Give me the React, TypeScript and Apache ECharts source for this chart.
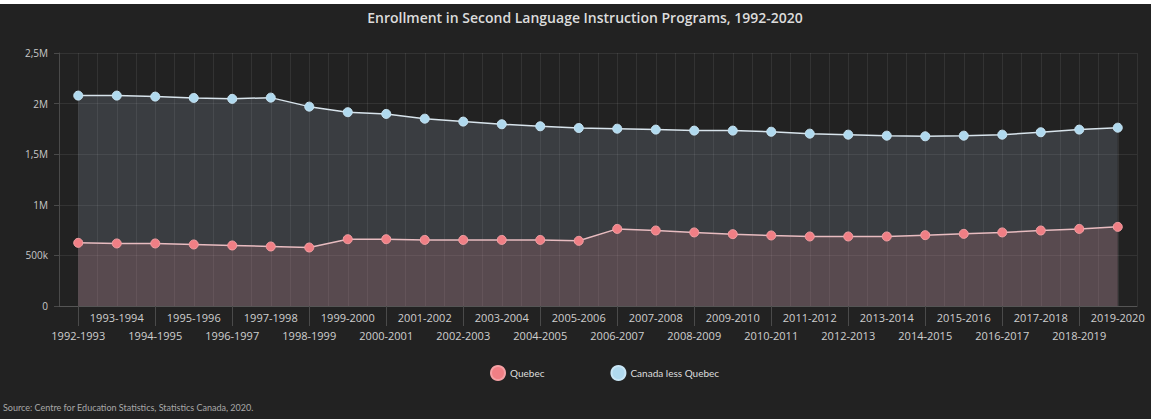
import React, { useEffect, useRef } from "react";
import * as echarts from "echarts";

const categories = [
  "1992-1993", "1993-1994", "1994-1995", "1995-1996", "1996-1997", "1997-1998", "1998-1999",
  "1999-2000", "2000-2001", "2001-2002", "2002-2003", "2003-2004", "2004-2005", "2005-2006",
  "2006-2007", "2007-2008", "2008-2009", "2009-2010", "2010-2011", "2011-2012", "2012-2013",
  "2013-2014", "2014-2015", "2015-2016", "2016-2017", "2017-2018", "2018-2019", "2019-2020",
];

const quebec = [
  624000, 618000, 618000, 608000, 598000, 588000, 578000,
  660000, 660000, 653000, 653000, 653000, 653000, 644000,
  762000, 746000, 727000, 710000, 697000, 687000, 687000,
  687000, 700000, 713000, 727000, 746000, 762000, 782000,
];

const canadaLessQuebec = [
  2079000, 2079000, 2069000, 2056000, 2047000, 2059000, 1970000,
  1915000, 1898000, 1851000, 1822000, 1796000, 1776000, 1759000,
  1752000, 1743000, 1733000, 1733000, 1722000, 1703000, 1693000,
  1683000, 1677000, 1683000, 1693000, 1717000, 1743000, 1762000,
];

const yTickLabels: Record<number, string> = {
  0: "0",
  500000: "500k",
  1000000: "1M",
  1500000: "1,5M",
  2000000: "2M",
  2500000: "2,5M",
};

const TITLE = "Enrollment in Second Language Instruction Programs, 1992-2020";
const SOURCE = "Source: Centre for Education Statistics, Statistics Canada, 2020.";

export default function App() {
  const ref = useRef<HTMLDivElement>(null);

  useEffect(() => {
    document.body.style.margin = "0";
    if (!ref.current) return;
    const chart = echarts.init(ref.current, undefined, { renderer: "svg" });
    const grid = "rgba(255,255,255,0.08)";
    const font = "'Open Sans', 'Noto Sans', sans-serif";
    chart.setOption({
      animation: false,
      backgroundColor: "#222222",
      textStyle: { fontFamily: font },
      grid: { left: 59, right: 14, top: 53, bottom: 113 },
      legend: {
        data: ["Quebec", "Canada less Quebec"],
        top: 360,
        left: 485,
        icon: "circle",
        itemWidth: 14,
        itemHeight: 14,
        itemGap: 66,
        textStyle: { color: "#dddddd", fontSize: 10, fontFamily: "Lato, sans-serif" },
      },
      xAxis: [
        {
          type: "category",
          data: categories,
          boundaryGap: true,
          axisLine: { show: true, lineStyle: { color: "#555555" } },
          axisTick: {
            show: true,
            alignWithLabel: true,
            interval: (i: number) => i % 2 === 0,
            length: 20,
            lineStyle: { color: "#4a4a4a" },
          },
          axisLabel: {
            interval: 0,
            color: "#cfcfcf",
            fontSize: 11,
            lineHeight: 18,
            margin: 2,
            formatter: (v: string, i: number) => (i % 2 === 0 ? "\n" + v : v),
          },
          splitLine: { show: false },
        },
        {
          type: "value",
          position: "top",
          min: 0,
          max: 28,
          interval: 0.5,
          axisLine: { show: false },
          axisTick: { show: false },
          axisLabel: { show: false },
          splitLine: { show: true, lineStyle: { color: grid, width: 1 } },
        },
      ],
      yAxis: {
        type: "value",
        min: 0,
        max: 2500000,
        interval: 500000,
        axisLine: { show: true, lineStyle: { color: "#4a4a4a" } },
        axisTick: { show: true, length: 5, lineStyle: { color: "#4a4a4a" } },
        axisLabel: {
          color: "#c8c8c8",
          fontSize: 10,
          margin: 11,
          formatter: (v: number) => yTickLabels[v] ?? String(v),
        },
        splitLine: { show: true, lineStyle: { color: grid } },
      },
      series: [
        {
          name: "Canada less Quebec",
          type: "line",
          xAxisIndex: 0,
          data: canadaLessQuebec,
          symbol: "circle",
          symbolSize: 9,
          showSymbol: true,
          itemStyle: { color: "#b0d9ee", borderColor: "#c9e6f5", borderWidth: 1 },
          lineStyle: { color: "#d8e4ec", width: 1.5 },
          areaStyle: { color: "rgba(150,168,188,0.29)" },
          z: 2,
        },
        {
          name: "Quebec",
          type: "line",
          xAxisIndex: 0,
          data: quebec,
          symbol: "circle",
          symbolSize: 9,
          showSymbol: true,
          itemStyle: { color: "#f07f85", borderColor: "#f5a0a4", borderWidth: 1 },
          lineStyle: { color: "#e8bcc0", width: 1.5 },
          areaStyle: { color: "rgba(215,130,138,0.28)" },
          z: 3,
        },
      ],
      graphic: [
        {
          type: "rect",
          shape: { x: 0, y: 0, width: 1151, height: 4 },
          style: { fill: "#ffffff" },
          silent: true,
        },
        {
          type: "text",
          x: 585,
          y: 17,
          style: {
            text: TITLE,
            fill: "#dcdcdc",
            font: "600 14px 'Open Sans', sans-serif",
            textAlign: "center",
            textVerticalAlign: "middle",
          },
        },
        {
          type: "text",
          x: 3,
          y: 407,
          style: {
            text: SOURCE,
            fill: "#a8a8a8",
            font: "9px Lato, sans-serif",
            textAlign: "left",
            textVerticalAlign: "middle",
          },
        },
      ],
    });
    return () => chart.dispose();
  }, []);

  return <div ref={ref} style={{ width: 1151, height: 419 }} />;
}
